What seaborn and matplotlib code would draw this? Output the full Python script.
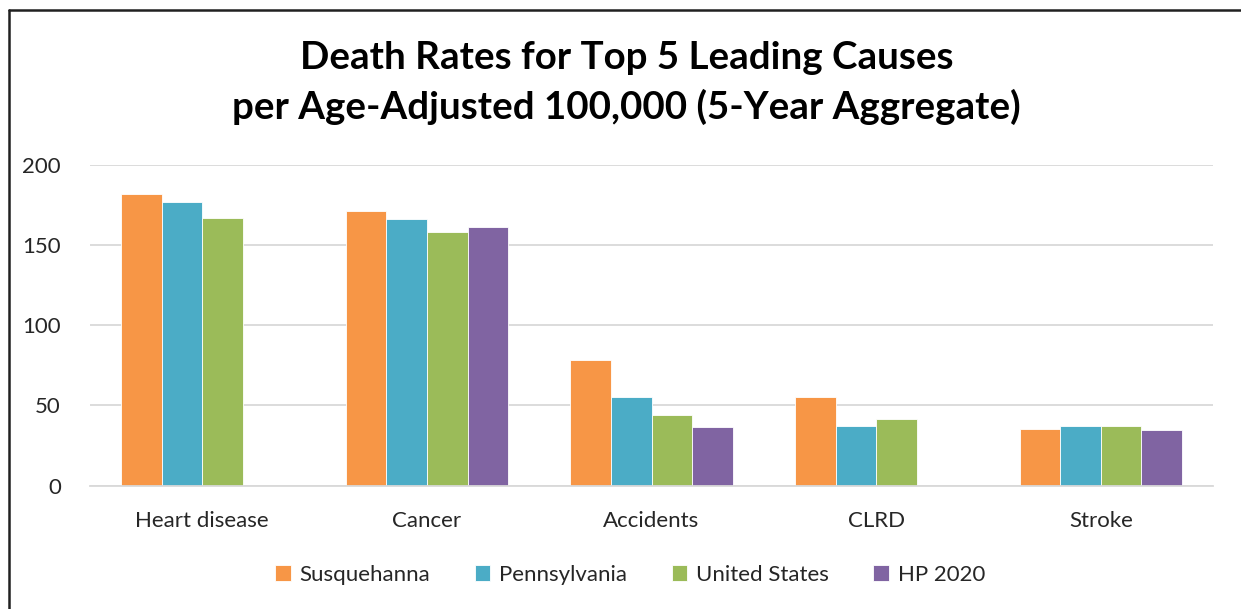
import matplotlib
matplotlib.use("Agg")
import matplotlib.pyplot as plt
from matplotlib.lines import Line2D
import seaborn as sns
import pandas as pd
import numpy as np

# Age-adjusted death rates per 100,000 (5-year aggregate)
causes = ["Heart disease", "Cancer", "Accidents", "CLRD", "Stroke"]
regions = ["Susquehanna", "Pennsylvania", "United States", "HP 2020"]
susquehanna = [182, 171, 78, 55, 35.5]
pennsylvania = [177, 166, 55, 37.4, 37.4]
united_states = [167, 158, 44, 41.4, 37.4]
hp_2020 = [np.nan, 161, 36.4, np.nan, 34.5]
y_ticks = [0, 50, 100, 150, 200]

colors = ["#F79646", "#4BACC6", "#9BBB59", "#8064A2"]

rows = []
for region, vals in zip(regions, [susquehanna, pennsylvania, united_states, hp_2020]):
    for cause, v in zip(causes, vals):
        rows.append({"Cause": cause, "Region": region, "Rate": v})
df = pd.DataFrame(rows)

sns.set_theme(style="white")
plt.rcParams["font.family"] = ["Lato", "DejaVu Sans"]

fig = plt.figure(figsize=(12.41, 6.09), dpi=100)
ax = fig.add_axes([0.0725, 0.2025, 0.905, 0.5271])

sns.barplot(data=df, x="Cause", y="Rate", hue="Region", order=causes,
            hue_order=regions, palette=colors, width=0.723, gap=0,
            saturation=1, errorbar=None, ax=ax, legend=True,
            edgecolor="white", linewidth=0.6)

ax.set_ylim(0, 200)
ax.set_yticks(y_ticks)
ax.set_xlim(-0.5, len(causes) - 0.5)
ax.yaxis.grid(True, color="#D9D9D9", linewidth=1.3)
ax.set_axisbelow(True)
for side in ["top", "right", "left"]:
    ax.spines[side].set_visible(False)
ax.spines["bottom"].set_color("#D9D9D9")
ax.spines["bottom"].set_linewidth(1.3)
ax.set_xlabel("")
ax.set_ylabel("")
ax.tick_params(axis="both", length=0, labelsize=16, colors="#262626")
ax.tick_params(axis="x", pad=18)
ax.tick_params(axis="y", pad=21)

handles, labels = ax.get_legend_handles_labels()
ax.legend(handles, labels, loc="center", bbox_to_anchor=(0.481, -0.278),
          ncol=4, frameon=False, fontsize=16, handlelength=0.7,
          handleheight=0.7, handletextpad=0.4, columnspacing=2.0,
          labelcolor="#262626")

fig.text(0.505, 0.905, "Death Rates for Top 5 Leading Causes", ha="center",
         va="center", fontsize=27.7, fontweight="bold", color="black")
fig.text(0.505, 0.824, "per Age-Adjusted 100,000 (5-Year Aggregate)", ha="center",
         va="center", fontsize=27.7, fontweight="bold", color="black")

# Outer frame lines along the top and left edges
fig.add_artist(Line2D([0.0075, 1.0], [0.9835, 0.9835], color="#202020",
                      linewidth=1.8, transform=fig.transFigure))
fig.add_artist(Line2D([0.0075, 0.0075], [0.0, 0.9835], color="#202020",
                      linewidth=1.8, transform=fig.transFigure))

fig.savefig("out.png", dpi=100, facecolor="white")
